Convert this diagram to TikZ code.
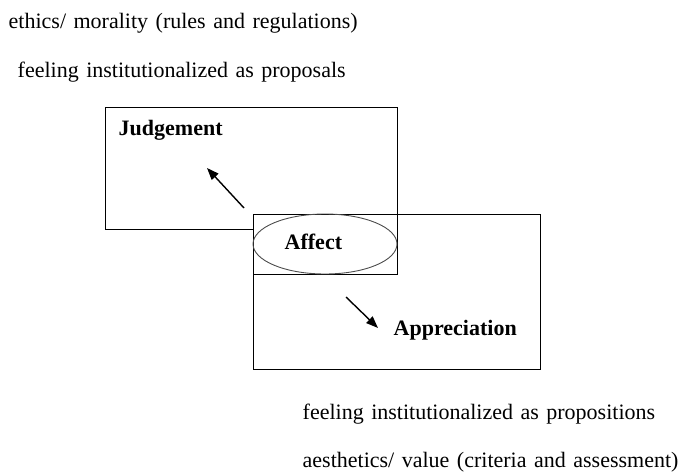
\documentclass[tikz,border=0pt]{standalone}
\usepackage{fontspec}
\setmainfont{Liberation Serif}
\usetikzlibrary{arrows.meta,shapes.geometric,positioning}

\newcommand\widespace{\spaceskip=7.5pt plus 1pt\relax}

\tikzset{
  txt/.style={inner sep=0pt, anchor=base west, font=\fontsize{22}{26}\selectfont\widespace},
  bold txt/.style={txt, font=\fontsize{22}{26}\selectfont\bfseries},
  box/.style={draw, line width=0.9pt, rectangle, inner sep=0pt},
}

\begin{document}
\begin{tikzpicture}[x=1pt,y=-1pt,>={Triangle[length=12pt,width=9pt]},line width=1.4pt]
  \useasboundingbox (0,0) rectangle (683,474);

  \node[box, minimum width=292pt, minimum height=122pt] (judgebox) at (251,168) {};
  \node[box, minimum width=287pt, minimum height=155pt] (apprbox) at (396.5,291.5) {};
  \node[box, fill=white, minimum width=144pt, minimum height=60pt] (affectbox) at (325,244) {};
  \node[draw=black!70, line width=0.9pt, ellipse, minimum width=144pt, minimum height=60pt, inner sep=0pt] (affect) at (affectbox.center) {};

  \node[bold txt] (judge) at (118,135) {Judgement};
  \node[bold txt] (afftext) at (284,249) {Affect};
  \node[bold txt] (appr) at (393,335) {Appreciation};

  \node[txt] (ethics) at (8,28) {ethics/ morality (rules and regulations)};
  \node[txt] (proposals) at (17,77) {feeling institutionalized as proposals};
  \node[txt] (propositions) at (302,419) {feeling institutionalized as propositions};
  \node[txt] (aesthetics) at (302,467) {aesthetics/ value (criteria and assessment)};

  \coordinate (up0) at (244,208);
  \coordinate (up1) at (207,168);
  \coordinate (down0) at (346,297);
  \coordinate (down1) at (378,328);

  \path[->]
    (up0) edge (up1)
    (down0) edge (down1);
\end{tikzpicture}
\end{document}
